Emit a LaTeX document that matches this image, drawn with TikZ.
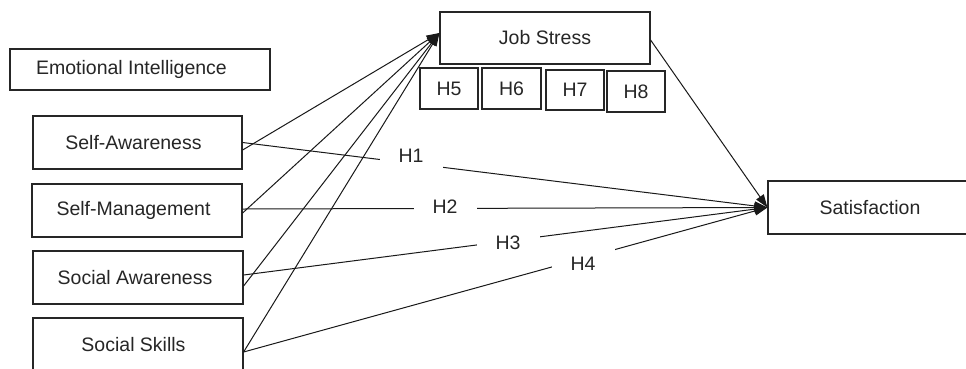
\documentclass[tikz,border=0pt]{standalone}
\usepackage{fontspec}
\setmainfont{Liberation Sans}
\usetikzlibrary{arrows.meta}
\newcommand{\txtleft}[2]{#2\hspace*{#1}}
\begin{document}
\begin{tikzpicture}[x=1pt,y=-1pt,
  box/.style={draw=black!85, line width=1.2pt, fill=white, inner sep=0pt,
    font=\fontsize{19.5}{23}\selectfont, text=black!85},
  conn/.style={draw=black!90, line width=1pt, -{Triangle[length=13pt,width=9pt]}},
  hlab/.style={fill=white, inner sep=0pt, minimum width=63pt, minimum height=34pt,
    font=\fontsize{19.5}{23}\selectfont, text=black!85}]
\useasboundingbox (0,0) rectangle (966,368);
\clip (0,0) rectangle (966,368);
\fill[white] (0,0) rectangle (966,368);

% nodes
\node[box, minimum width=260pt, minimum height=41pt] (EI) at (140,69.5) {\txtleft{17pt}{Emotional Intelligence}};
\node[box, minimum width=209pt, minimum height=53pt] (SA) at (137.5,142.5) {\txtleft{8pt}{Self-Awareness}};
\node[box, minimum width=210pt, minimum height=53pt] (SM) at (137,210.5) {\txtleft{7pt}{Self-Management}};
\node[box, minimum width=210pt, minimum height=53pt] (SoA) at (138,277.5) {\txtleft{6pt}{Social Awareness}};
\node[box, minimum width=210pt, minimum height=53pt] (SS) at (138,344.5) {\txtleft{9pt}{Social Skills}};
\node[box, minimum width=210pt, minimum height=52pt] (JS) at (545,38) {Job Stress};
\node[box, minimum width=58pt, minimum height=41pt] (H5) at (449,88.5) {H5};
\node[box, minimum width=59pt, minimum height=41pt] (H6) at (511.5,88.5) {H6};
\node[box, minimum width=58pt, minimum height=40pt] (H7) at (575,90) {H7};
\node[box, minimum width=58pt, minimum height=41pt] (H8) at (636,91.5) {H8};
\node[box, minimum width=204pt, minimum height=53pt] (Sat) at (870,207.5) {Satisfaction};

% connectors to Job Stress
\draw[conn] ([yshift=-7.5pt]SA.east) -- ([yshift=5pt]JS.west);
\draw[conn] ([yshift=-2.5pt]SM.east) -- ([yshift=5pt]JS.west);
\draw[conn] ([yshift=-8.5pt]SoA.east) -- ([yshift=5pt]JS.west);
\draw[conn] ([yshift=-7.5pt]SS.east) -- ([yshift=5pt]JS.west);

% connectors to Satisfaction
\draw[conn] (SA.east) -- (Sat.west);
\draw[conn] ([yshift=1.5pt]SM.east) -- (Sat.west);
\draw[conn] ([yshift=2.5pt]SoA.east) -- (Sat.west);
\draw[conn] ([yshift=-7.5pt]SS.east) -- (Sat.west);
\draw[conn] ([yshift=-2pt]JS.east) -- (Sat.west);

% hypothesis labels
\node[hlab] (L1) at (411,156) {H1};
\node[hlab] (L2) at (445,207) {H2};
\node[hlab] (L3) at (508,243) {H3};
\node[hlab] (L4) at (583,264) {H4};
\end{tikzpicture}
\end{document}
